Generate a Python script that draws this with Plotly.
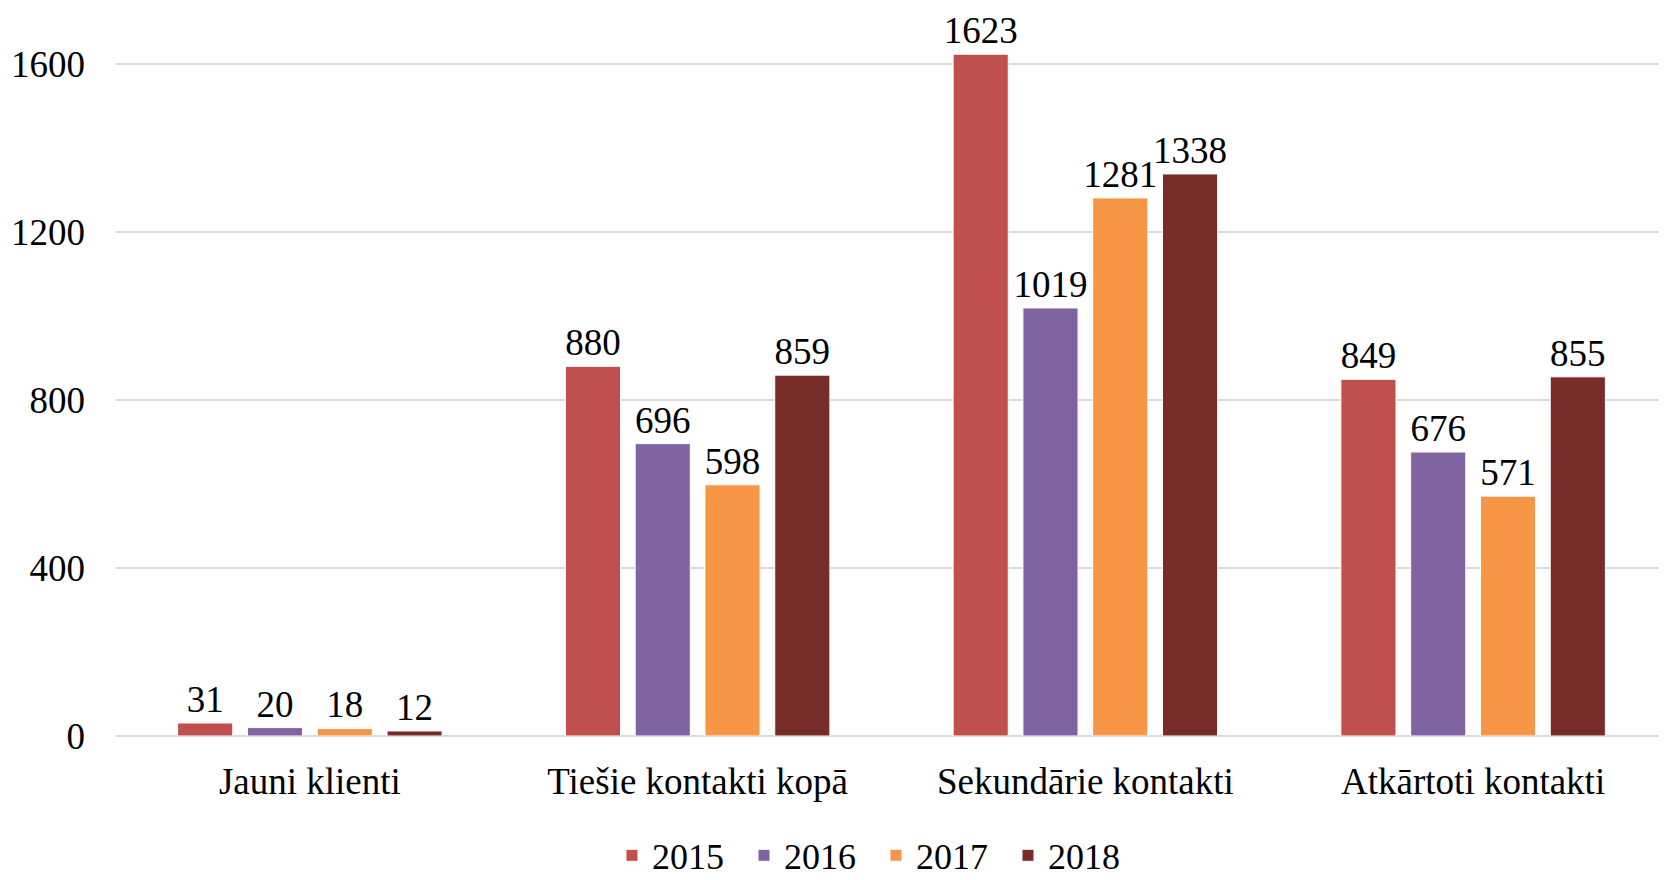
import plotly.graph_objects as go

categories = ["Jauni klienti", "Tiešie kontakti kopā", "Sekundārie kontakti", "Atkārtoti kontakti"]
years = ["2015", "2016", "2017", "2018"]
values = {
    "2015": [31, 880, 1623, 849],
    "2016": [20, 696, 1019, 676],
    "2017": [18, 598, 1281, 571],
    "2018": [12, 859, 1338, 855],
}
colors = {"2015": "#C0504D", "2016": "#8064A2", "2017": "#F79646", "2018": "#772C2A"}

FONT = "Liberation Serif, Times New Roman, serif"

fig = go.Figure()
for yr in years:
    fig.add_trace(
        go.Bar(
            x=categories,
            y=values[yr],
            name=yr,
            marker=dict(color=colors[yr], line=dict(color="white", width=1)),
            text=values[yr],
            textposition="outside",
            constraintext="none",
            cliponaxis=False,
            textfont=dict(family=FONT, size=37, color="black"),
        )
    )

# page body adds an 8px offset, so the figure is sized 8px smaller
fig.update_layout(
    width=1659,
    height=872,
    barmode="group",
    bargap=0.28,
    bargroupgap=0.21,
    plot_bgcolor="white",
    paper_bgcolor="white",
    font=dict(family=FONT, size=37, color="black"),
    margin=dict(l=108, r=0, t=0, b=144, autoexpand=False),
    showlegend=True,
    legend=dict(
        orientation="h",
        x=0.49,
        xanchor="center",
        y=-0.164,
        yanchor="middle",
        font=dict(family=FONT, size=36),
        entrywidth=87,
        borderwidth=0,
    ),
    xaxis=dict(
        showline=False,
        ticks="",
        ticklabelstandoff=20,
        tickfont=dict(family=FONT, size=37),
    ),
    yaxis=dict(
        range=[0, 1733],
        tickvals=[0, 400, 800, 1200, 1600],
        showgrid=True,
        gridcolor="#D9D9D9",
        gridwidth=1.5,
        zeroline=True,
        zerolinecolor="#D9D9D9",
        zerolinewidth=1.5,
        showline=False,
        ticks="",
        ticklabelstandoff=30,
        tickfont=dict(family=FONT, size=37),
    ),
)

fig.write_html("out.html")
